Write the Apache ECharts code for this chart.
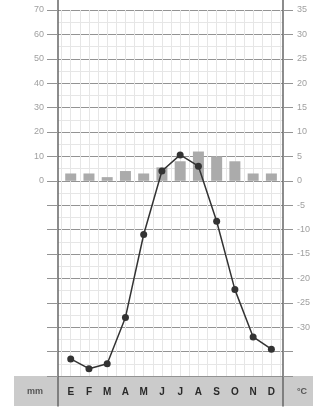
<!DOCTYPE html>
<html>
<head>
<meta charset="utf-8">
<title>Climograma</title>
<script src="https://cdn.jsdelivr.net/npm/echarts@6/dist/echarts.min.js"></script>
<style>
html,body{margin:0;padding:0;background:#fff;}
#chart{width:313px;height:412px;}
</style>
</head>
<body>
<div id="chart"></div>
<script>
var months = ['E','F','M','A','M','J','J','A','S','O','N','D'];
var precipitacion = [3, 3, 1.5, 4, 3, 5.5, 8, 12, 10, 8, 3, 3];
var temperatura = [-36.5, -38.5, -37.5, -28, -11, 2, 5.3, 3, -8.3, -22.3, -32, -34.5];

// medio mes, solo para las líneas verticales finas
var mitades = [];
months.forEach(function(m, i){ mitades.push(i + 'a', i + 'b'); });

var chart = echarts.init(document.getElementById('chart'));

var labelFont = 'Liberation Sans';
var gris = '#939393';

chart.setOption({
    animation: false,
    grid: [
        {left: 58, right: 30, top: 10, bottom: 36},
        {left: 61.6, right: 32.5, top: 10, bottom: 36},
        {left: 58, right: 30, top: 0, bottom: 6}
    ],
    graphic: [
        {type: 'rect', z: -10, shape: {x: 14, y: 376, width: 299, height: 30}, style: {fill: '#cbcbcb'}},
        {type: 'text', z: 10, x: 35, y: 392, style: {text: 'mm', fill: '#555', font: 'bold 9px ' + labelFont, textAlign: 'center', textVerticalAlign: 'middle'}},
        {type: 'text', z: 10, x: 302, y: 392, style: {text: '°C', fill: '#555', font: 'bold 9px ' + labelFont, textAlign: 'center', textVerticalAlign: 'middle'}}
    ],
    xAxis: [
        {type: 'value', gridIndex: 0, show: false, min: 0, max: 1},
        {
            type: 'category', gridIndex: 1, data: months,
            axisLine: {show: false}, axisTick: {show: false},
            axisLabel: {interval: 0, margin: 11, color: '#2a2a2a', fontWeight: 'bold', fontSize: 10, fontFamily: labelFont},
            splitLine: {show: false}
        },
        {
            type: 'category', gridIndex: 1, data: mitades,
            axisLine: {show: false}, axisTick: {show: false, interval: 0}, axisLabel: {show: false},
            splitLine: {show: true, interval: 0, lineStyle: {color: '#e6e6e6', width: 1}}
        },
        {type: 'value', gridIndex: 2, show: false, min: 0, max: 1}
    ],
    yAxis: [
        {
            type: 'value', gridIndex: 0, position: 'left', min: -80, max: 70, interval: 10,
            axisLine: {show: false},
            axisTick: {show: true, length: 11, lineStyle: {color: gris}},
            axisLabel: {margin: 14, color: '#a0a0a0', fontSize: 9, fontFamily: labelFont,
                formatter: function(v){ return v >= 0 ? v : ''; }},
            splitLine: {show: true, lineStyle: {color: gris, width: 1}},
            minorTick: {show: false, splitNumber: 2},
            minorSplitLine: {show: true, lineStyle: {color: '#e6e6e6'}}
        },
        {
            type: 'value', gridIndex: 0, position: 'right', min: -40, max: 35, interval: 5,
            axisLine: {show: false},
            axisTick: {show: true, length: 10, lineStyle: {color: gris}},
            axisLabel: {margin: 14, color: '#a0a0a0', fontSize: 9, fontFamily: labelFont,
                formatter: function(v){ return v >= -30 ? v : ''; }},
            splitLine: {show: false}
        },
        {type: 'value', gridIndex: 1, min: -80, max: 70, show: false},
        {type: 'value', gridIndex: 1, min: -40, max: 35, show: false},
        {
            type: 'value', gridIndex: 2, position: 'left', min: 0, max: 1,
            axisLine: {show: true, lineStyle: {color: '#666', width: 1.5}},
            axisTick: {show: false}, axisLabel: {show: false}, splitLine: {show: false}
        },
        {
            type: 'value', gridIndex: 2, position: 'right', min: 0, max: 1,
            axisLine: {show: true, lineStyle: {color: '#666', width: 1.5}},
            axisTick: {show: false}, axisLabel: {show: false}, splitLine: {show: false}
        }
    ],
    series: [
        {
            name: 'Precipitación', type: 'bar', xAxisIndex: 1, yAxisIndex: 2,
            data: precipitacion, barWidth: 11,
            itemStyle: {color: '#ababab'}
        },
        {
            name: 'Temperatura', type: 'line', xAxisIndex: 1, yAxisIndex: 3,
            data: temperatura, symbol: 'circle', symbolSize: 7,
            lineStyle: {color: '#333', width: 1.5},
            itemStyle: {color: '#333'}
        }
    ]
});
</script>
</body>
</html>
